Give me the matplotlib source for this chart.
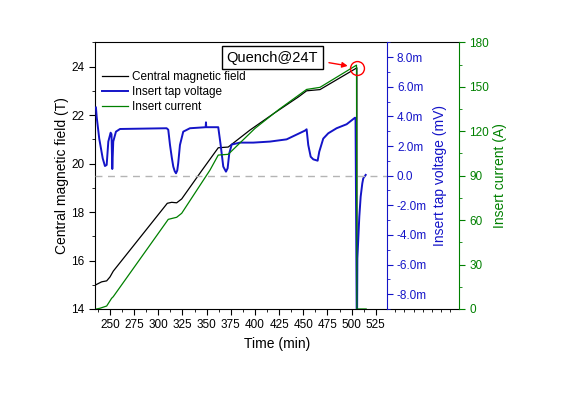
import numpy as np
import matplotlib
matplotlib.use("Agg")
import matplotlib.pyplot as plt
from matplotlib.ticker import MultipleLocator, FixedLocator, FuncFormatter

plt.rcParams["font.family"] = ["Liberation Sans", "DejaVu Sans"]

# central magnetic field (T) vs time (min)
field_time = [234.5, 241.4, 246.6, 250.0, 253.4, 309.3, 313.8, 319.0, 324.2, 344.8,
              362.0, 372.3, 394.8, 420.0, 445.0, 453.4, 467.2, 503.4, 505.4, 505.4]
field = [14.98, 15.12, 15.16, 15.32, 15.56, 18.36, 18.40, 18.38, 18.54, 19.70,
         20.65, 20.68, 21.38, 22.08, 22.75, 23.00, 23.05, 23.90, 23.95, 14.0]

# insert tap voltage (mV)
volt_time = [235.5, 236.3, 238.9, 242.5, 244.8, 246.6, 248.3, 250.7, 251.6, 252.4,
             253.4, 256.2, 260.4, 308.6, 310.3, 312.1, 314.0, 315.5, 317.0, 318.3,
             319.6, 320.6, 322.4, 325.8, 332.7, 349.0, 349.3, 349.6, 362.0, 364.5,
             367.2, 370.0, 371.7, 373.4, 375.9, 384.5, 398.2, 415.5, 432.7, 451.7,
             453.4, 455.1, 457.6, 460.3, 464.8, 466.5, 470.6, 475.8, 484.4, 494.8,
             503.4, 504.0, 505.2, 505.6, 505.9, 507.9, 509.3, 511.0, 512.0, 514.5]
voltage = [4.6, 3.95, 2.5, 1.17, 0.65, 0.72, 2.3, 2.9, 2.8, 0.45,
           2.3, 2.97, 3.15, 3.2, 3.1, 2.07, 1.2, 0.61, 0.3, 0.16,
           0.35, 0.84, 2.07, 2.97, 3.2, 3.27, 3.6, 3.27, 3.27, 2.07,
           0.61, 0.27, 0.5, 1.5, 2.1, 2.23, 2.23, 2.3, 2.45, 3.04,
           3.13, 2.07, 1.28, 1.1, 1.01, 1.62, 2.5, 2.86, 3.2, 3.47,
           3.91, 3.9, -9.5, -9.5, -5.6, -2.77, -1.42, -0.52, -0.18, 0.05]

# insert current (A)
current_time = [236.0, 239.7, 246.6, 251.7, 253.4, 310.3, 319.0, 324.2, 353.5, 362.0,
                372.3, 400.0, 425.0, 453.4, 467.2, 505.0, 505.4, 515.0]
current = [0.0, 0.5, 2.0, 7.2, 8.3, 60.5, 61.9, 64.6, 93.8, 103.9,
           104.4, 121.9, 134.8, 148.2, 149.6, 164.6, 0.0, 0.0]

quench_time = 505.0
quench_field = 23.95

BLUE = "#1414c8"
GREEN = "#008000"

fig = plt.figure(figsize=(5.67, 3.97), dpi=100)
ax = fig.add_axes([0.1675, 0.2217, 0.642, 0.6717])
ax2 = ax.twinx()
ax3 = ax.twinx()

# left axis: field
l1, = ax.plot(field_time, field, color="black", lw=0.9, label="Central magnetic field")
ax.set_xlim(234.5, 611)
ax.set_ylim(14, 25)
ax.xaxis.set_major_locator(FixedLocator(np.arange(250, 526, 25)))
ax.xaxis.set_minor_locator(FixedLocator(np.concatenate([np.arange(237.5, 526, 12.5),
                                                         np.arange(545, 611, 9.5)])))
ax.yaxis.set_major_locator(MultipleLocator(2))
ax.yaxis.set_minor_locator(MultipleLocator(1))
ax.set_xlabel("Time (min)", fontsize=10)
ax.set_ylabel("Central magnetic field (T)", fontsize=10, labelpad=2)
ax.tick_params(axis="both", which="major", direction="out", length=4, labelsize=8.5)
ax.tick_params(axis="both", which="minor", direction="out", length=2.5)
ax.spines["right"].set_visible(False)

# blue axis: voltage
l2, = ax2.plot(volt_time, voltage, color=BLUE, lw=1.4, label="Insert tap voltage")
ax2.axhline(0, xmin=0, xmax=0.801, color="#b4b4b4", lw=1, ls=(0, (5, 4)))
ax2.set_ylim(-9, 9)
ax2.spines["right"].set_position(("axes", 0.801))
ax2.spines["right"].set_color(BLUE)
for s in ["left", "top", "bottom"]:
    ax2.spines[s].set_visible(False)
ax2.yaxis.set_major_locator(MultipleLocator(2))
ax2.yaxis.set_minor_locator(MultipleLocator(1))
ax2.yaxis.set_major_formatter(FuncFormatter(lambda v, p: "0.0" if abs(v) < 1e-9 else f"{v:.1f}m"))
ax2.tick_params(axis="y", which="major", direction="out", length=4, labelsize=8.5,
                colors=BLUE)
ax2.tick_params(axis="y", which="minor", direction="out", length=2.5, colors=BLUE)
ax2.set_ylabel("Insert tap voltage (mV)", fontsize=10, color=BLUE, labelpad=4)

# green axis: current
l3, = ax3.plot(current_time, current, color=GREEN, lw=0.9, label="Insert current")
ax3.set_ylim(0, 180)
ax3.spines["right"].set_color(GREEN)
for s in ["left", "top", "bottom"]:
    ax3.spines[s].set_visible(False)
ax3.yaxis.set_major_locator(MultipleLocator(30))
ax3.yaxis.set_minor_locator(MultipleLocator(15))
ax3.tick_params(axis="y", which="major", direction="out", length=4, labelsize=8.5,
                colors=GREEN)
ax3.tick_params(axis="y", which="minor", direction="out", length=2.5, colors=GREEN)
ax3.set_ylabel("Insert current (A)", fontsize=10, color=GREEN, labelpad=2.5)

ax3.legend(handles=[l1, l2, l3], loc="upper left", bbox_to_anchor=(0.019, 0.893),
           frameon=False, fontsize=8.5, borderpad=0, borderaxespad=0,
           handlelength=2.2, handletextpad=0.35, labelspacing=0.25)

# quench marker
ax3.plot([quench_time], [quench_field], transform=ax.transData, marker="o",
         ms=10, mfc="none", mec="red", mew=1, ls="none")
ax3.annotate("", xy=(quench_time - 2, quench_field + 0.03), xycoords=ax.transData,
             xytext=(476.5, 24.16), textcoords=ax.transData,
             arrowprops=dict(arrowstyle="-|>", color="red", lw=1,
                             mutation_scale=8, shrinkA=0, shrinkB=5))
ax3.text(418, 24.37, "Quench@24T", transform=ax.transData, fontsize=10.5,
         ha="center", va="center",
         bbox=dict(boxstyle="square,pad=0.3", fc="white", ec="black", lw=1))

fig.savefig("out.png", dpi=100)
